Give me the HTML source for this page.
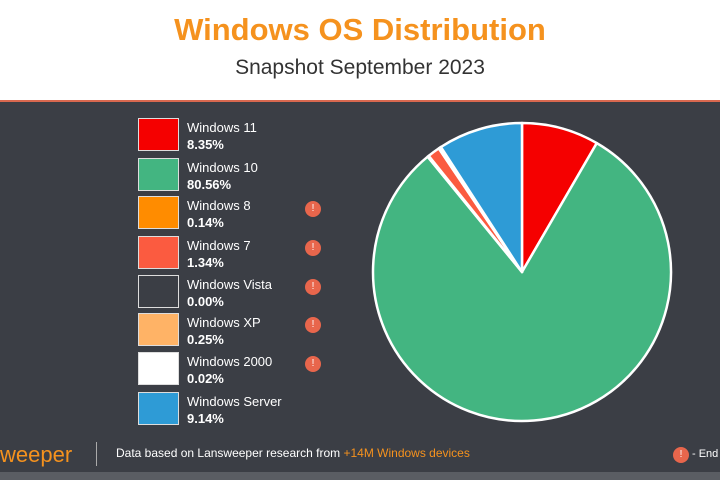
<!DOCTYPE html>
<html><head><style>
body{margin:0;width:720px;height:480px;overflow:hidden;background:#fff;font-family:"Liberation Sans",sans-serif;position:relative}
.t{position:absolute;left:0;width:720px;text-align:center}
.dark{position:absolute;left:0;top:100px;width:720px;height:372px;background:#3b3e45;border-top:2px solid #d9684f}
.bot{position:absolute;left:0;top:472px;width:720px;height:8px;background:#5a5d63}
.box{position:absolute;left:138px;width:41px;height:33px;border:1.5px solid #ddd;box-sizing:border-box}
.lab{position:absolute;left:187px;color:#fff;font-size:13px;line-height:17px}
.lab b{font-weight:bold}
.ic{position:absolute;left:305px;width:16px;height:16px;border-radius:50%;background:#e8664c;color:#fff;font-size:10px;text-align:center;line-height:16px}
</style></head><body>
<div class="t" style="top:12px;font-size:31px;font-weight:bold;color:#f5921e">Windows OS Distribution</div>
<div class="t" style="top:56px;font-size:21px;color:#333">Snapshot September 2023</div>
<div class="dark"></div>
<div class="bot"></div>

<div class="box" style="top:118px;background:#f50000"></div><div class="lab" style="top:119px">Windows 11<br><b>8.35%</b></div>
<div class="box" style="top:158px;background:#43b581"></div><div class="lab" style="top:159px">Windows 10<br><b>80.56%</b></div>
<div class="box" style="top:196px;background:#ff8c00"></div><div class="lab" style="top:197px">Windows 8<br><b>0.14%</b></div><div class="ic" style="top:201px">!</div>
<div class="box" style="top:236px;background:#fb5b40"></div><div class="lab" style="top:237px">Windows 7<br><b>1.34%</b></div><div class="ic" style="top:240px">!</div>
<div class="box" style="top:275px;background:#3b3e45"></div><div class="lab" style="top:276px">Windows Vista<br><b>0.00%</b></div><div class="ic" style="top:279px">!</div>
<div class="box" style="top:313px;background:#ffb366"></div><div class="lab" style="top:314px">Windows XP<br><b>0.25%</b></div><div class="ic" style="top:317px">!</div>
<div class="box" style="top:352px;background:#fff"></div><div class="lab" style="top:353px">Windows 2000<br><b>0.02%</b></div><div class="ic" style="top:356px">!</div>
<div class="box" style="top:392px;background:#2e9bd6"></div><div class="lab" style="top:393px">Windows Server<br><b>9.14%</b></div>

<svg style="position:absolute;left:0;top:0" width="720" height="480">
<g stroke="#fff" stroke-width="2.5" stroke-linejoin="round">
<path id="p"/>
</g>
<g id="g"></g>
</svg>
<div style="position:absolute;left:0;top:442px;font-size:22px;color:#f5921e">weeper</div>
<div style="position:absolute;left:96px;top:442px;width:1px;height:24px;background:#aaa"></div>
<div style="position:absolute;left:116px;top:446px;font-size:12px;color:#fff">Data based on Lansweeper research from <span style="color:#f5921e">+14M Windows devices</span></div>
<div class="ic" style="left:673px;top:447px">!</div>
<div style="position:absolute;left:692px;top:448px;font-size:11px;color:#fff">- End</div>
<script>
var d=[[8.35,"#f50000"],[80.56,"#43b581"],[0.14,"#ff8c00"],[1.34,"#fb5b40"],[0.25,"#ffb366"],[0.02,"#fff"],[9.14,"#2e9bd6"]];
var cx=522,cy=272,r=149,a=-Math.PI/2,s="",t=0;d.forEach(x=>t+=x[0]);
d.forEach(x=>{var b=a+x[0]/t*2*Math.PI;var l=(b-a)>Math.PI?1:0;
s+='<path d="M'+cx+' '+cy+' L'+(cx+r*Math.cos(a))+' '+(cy+r*Math.sin(a))+' A'+r+' '+r+' 0 '+l+' 1 '+(cx+r*Math.cos(b))+' '+(cy+r*Math.sin(b))+' Z" fill="'+x[1]+'" stroke="#fff" stroke-width="2.5" stroke-linejoin="round"/>';a=b;});
document.getElementById("g").innerHTML=s;
</script>
</body></html>
